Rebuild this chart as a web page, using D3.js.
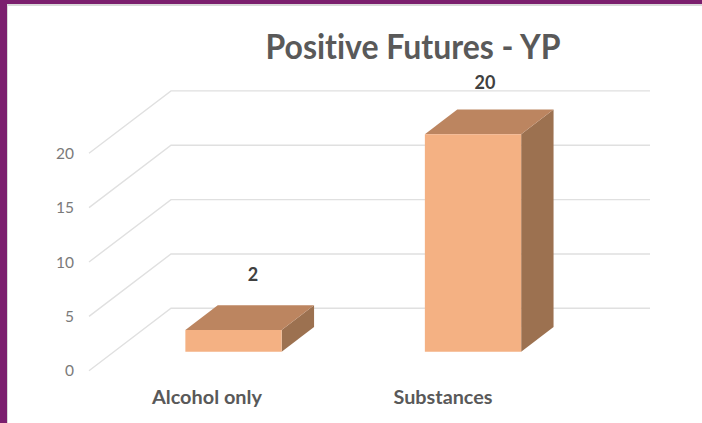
<!DOCTYPE html>
<html><head><meta charset="utf-8">
<script src="https://cdn.jsdelivr.net/npm/d3@7"></script>
<style>html,body{margin:0;padding:0;background:#fff}svg{display:block}text{font-family:"Lato","Open Sans",sans-serif;font-variant-ligatures:none;font-feature-settings:"liga" 0}</style>
</head><body><svg id="c" width="702" height="423"></svg>
<script>
const categories = ["Alcohol only", "Substances"];
const values = [2, 20];
const yTicks = [0, 5, 10, 15, 20];
const chartTitle = "Positive Futures - YP";

const svg = d3.select("#c");
svg.append("rect").attr("x",7).attr("y",4).attr("width",695).attr("height",2).attr("fill","#d9d9d9");
svg.append("rect").attr("x",7).attr("y",4).attr("width",1).attr("height",419).attr("fill","#d9d9d9");
svg.append("rect").attr("width",702).attr("height",4).attr("fill","#7b1f6e");
svg.append("rect").attr("width",7).attr("height",423).attr("fill","#7b1f6e");

const y = d3.scaleLinear().domain([0,20]).range([370.7,153.3]);
const depthX = d3.scaleLinear().domain([0,1]).range([0,82]);
const depthY = d3.scaleLinear().domain([0,1]).range([0,-62.4]);
const barW = 96.3, z0 = 0.305, z1 = 0.70;
const xc = d3.scalePoint().domain(categories).range([208.5,448]);
const labelX = d3.scalePoint().domain(categories).range([253,485]);
const labelY = d3.scaleLinear().domain([2,20]).range([280.5,88.5]);

const line = d3.line();
svg.append("g").selectAll("path").data(yTicks).join("path")
  .attr("fill","none").attr("stroke","#e0e0e0").attr("stroke-width",1.4)
  .attr("d", t => line([[89,y(t)],[89+depthX(1),y(t)+depthY(1)],[650,y(t)+depthY(1)]]));

svg.append("g").selectAll("text").data(yTicks).join("text")
  .attr("x",74).attr("y",t=>y(t)+5.5).attr("text-anchor","end")
  .attr("font-size",15.5).attr("fill","#7a7a7a").text(d=>d);

const bars = svg.append("g").selectAll("g").data(categories.map((c,i)=>({c,v:values[i]}))).join("g");
const pt = (d,side,z,v)=>[xc(d.c)+(side?barW/2:-barW/2)+depthX(z), y(v)+depthY(z)];
bars.append("path").attr("fill","#9c7150")
  .attr("d",d=>line([pt(d,1,z0,0),pt(d,1,z1,0),pt(d,1,z1,d.v),pt(d,1,z0,d.v)])+"Z");
bars.append("path").attr("fill","#bc8560")
  .attr("d",d=>line([pt(d,0,z0,d.v),pt(d,1,z0,d.v),pt(d,1,z1,d.v),pt(d,0,z1,d.v)])+"Z");
bars.append("path").attr("fill","#f4b183")
  .attr("d",d=>line([pt(d,0,z0,0),pt(d,1,z0,0),pt(d,1,z0,d.v),pt(d,0,z0,d.v)])+"Z");
bars.append("text").attr("text-anchor","middle")
  .attr("x",d=>labelX(d.c)).attr("y",d=>labelY(d.v))
  .attr("font-size",18).attr("font-weight",700).attr("fill","#404040").text(d=>d.v);

svg.append("g").selectAll("text").data(categories).join("text")
  .attr("x",(d,i)=>i?443:207).attr("y",404).attr("text-anchor","middle")
  .attr("font-size",18).attr("font-weight",700).attr("fill","#595959")
  .attr("textLength",(d,i)=>i?99:110).attr("lengthAdjust","spacingAndGlyphs").text(d=>d);

svg.append("text").attr("x",413).attr("y",58.5).attr("text-anchor","middle")
  .attr("font-size",34).attr("font-weight",700).attr("fill","#595959")
  .attr("textLength",295).attr("lengthAdjust","spacingAndGlyphs").text(chartTitle);
</script></body></html>
